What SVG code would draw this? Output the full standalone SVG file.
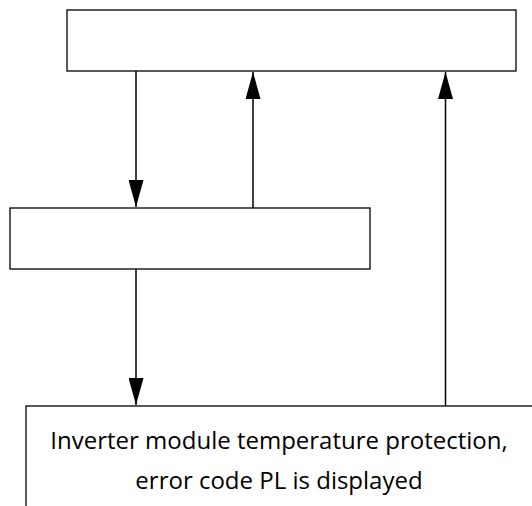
<svg xmlns="http://www.w3.org/2000/svg" width="532" height="506" viewBox="0 0 532 506">
<defs>
<style>
.box{fill:#fff;stroke:#000;stroke-width:1.3}
.ln{fill:none;stroke:#000;stroke-width:1.5}
.lbl{font-family:"Open Sans","Noto Sans",sans-serif;font-size:24px;fill:#000;text-anchor:middle}
</style>
<marker id="ah" markerWidth="27" markerHeight="15" refX="27" refY="7.5" orient="auto" markerUnits="userSpaceOnUse">
<path d="M0,0 L27,7.5 L0,15 Z" fill="#000"/>
</marker>
</defs>
<rect width="532" height="506" fill="#fff"/>
<g id="top"><rect class="box" x="67" y="10" width="449" height="61"/></g>
<g id="middle"><rect class="box" x="10" y="208" width="360" height="61"/></g>
<g id="bottom"><rect class="box" x="26" y="406" width="520" height="120"/>
<text class="lbl" x="279" y="449">Inverter module temperature protection,</text>
<text class="lbl" x="279" y="489">error code PL is displayed</text>
</g>
<g id="connectors">
<line class="ln" x1="136" y1="71" x2="136" y2="207" marker-end="url(#ah)"/>
<line class="ln" x1="253" y1="208" x2="253" y2="72" marker-end="url(#ah)"/>
<line class="ln" x1="136" y1="269" x2="136" y2="405" marker-end="url(#ah)"/>
<line class="ln" x1="445.5" y1="406" x2="445.5" y2="72" marker-end="url(#ah)"/>
</g>
</svg>
